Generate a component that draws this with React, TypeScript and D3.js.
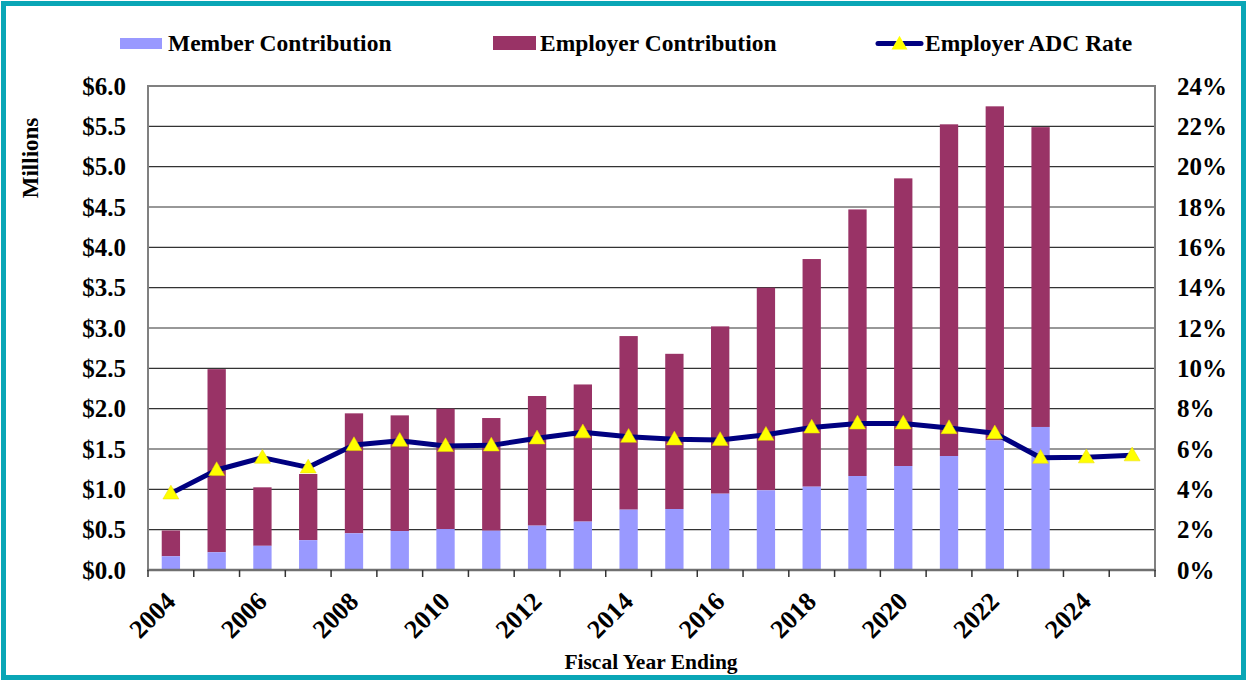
import React, { useEffect, useRef } from 'react';
import * as d3 from 'd3';

// fiscal years on the category axis
const years = ['2004','2005','2006','2007','2008','2009','2010','2011','2012','2013','2014',
  '2015','2016','2017','2018','2019','2020','2021','2022','2023','2024','2025'];

// contributions in $ millions (bars only go through 2023)
const memberContribution = [0.17, 0.22, 0.30, 0.37, 0.455, 0.483, 0.508, 0.487, 0.55, 0.60,
  0.748, 0.756, 0.946, 0.988, 1.033, 1.165, 1.289, 1.413, 1.607, 1.773];
const totalContribution = [0.49, 2.49, 1.025, 1.19, 1.942, 1.917, 2.0, 1.884, 2.157, 2.30,
  2.90, 2.68, 3.02, 3.50, 3.855, 4.47, 4.855, 5.525, 5.748, 5.49];

// employer ADC rate in percent of payroll
const adcRate = [3.8, 4.96, 5.57, 5.09, 6.2, 6.41, 6.15, 6.18, 6.53, 6.83, 6.61,
  6.48, 6.45, 6.71, 7.07, 7.27, 7.27, 7.04, 6.78, 5.57, 5.59, 5.69];

const leftTicks = [0, 0.5, 1, 1.5, 2, 2.5, 3, 3.5, 4, 4.5, 5, 5.5, 6];
const rightTicks = [0, 2, 4, 6, 8, 10, 12, 14, 16, 18, 20, 22, 24];
const labelYears = ['2004','2006','2008','2010','2012','2014','2016','2018','2020','2022','2024'];

const FONT = '"Liberation Serif", "Times New Roman", serif';
const MEMBER = '#9999FF';
const EMPLOYER = '#993366';
const LINE = '#000080';

export default function App() {
  const ref = useRef<SVGSVGElement>(null);

  useEffect(() => {
    const svg = d3.select(ref.current);
    svg.selectAll('*').remove();

    const left = 148, right = 1155, top = 86, bottom = 570;

    const x = d3.scaleBand<string>().domain(years).range([left, right]).padding(0);
    const y = d3.scaleLinear().domain([0, 6]).range([bottom, top]);
    const yR = d3.scaleLinear().domain([0, 24]).range([bottom, top]);
    const bw = x.bandwidth();

    // outer teal frame
    svg.append('rect')
      .attr('x', 3.5).attr('y', 3.5).attr('width', 1240).attr('height', 674)
      .attr('fill', '#fff').attr('stroke', '#0AA6B6').attr('stroke-width', 5);

    // gridlines
    svg.append('g').selectAll('line')
      .data(leftTicks.filter(t => t > 0 && t < 6))
      .join('line')
      .attr('x1', left).attr('x2', right)
      .attr('y1', d => y(d)).attr('y2', d => y(d))
      .attr('stroke', '#333').attr('stroke-width', 1.2);

    // stacked bars
    const bars = svg.append('g');
    memberContribution.forEach((m, i) => {
      const bx = (x(years[i]) as number) + bw * 0.3;
      bars.append('rect')
        .attr('x', bx).attr('width', bw * 0.4)
        .attr('y', y(totalContribution[i])).attr('height', y(m) - y(totalContribution[i]))
        .attr('fill', EMPLOYER);
      bars.append('rect')
        .attr('x', bx).attr('width', bw * 0.4)
        .attr('y', y(m)).attr('height', y(0) - y(m))
        .attr('fill', MEMBER);
    });

    // plot frame
    svg.append('path')
      .attr('d', `M${left},${bottom}V${top}H${right}V${bottom}`)
      .attr('fill', 'none').attr('stroke', '#808080').attr('stroke-width', 2);
    svg.append('line')
      .attr('x1', left - 1).attr('x2', right + 1).attr('y1', bottom).attr('y2', bottom)
      .attr('stroke', '#707070').attr('stroke-width', 2.5);

    // category tick marks at band boundaries
    const bounds = years.map(yr => x(yr) as number).concat([right]);
    svg.append('g').selectAll('line')
      .data(bounds)
      .join('line')
      .attr('x1', d => d).attr('x2', d => d)
      .attr('y1', bottom).attr('y2', bottom + 7)
      .attr('stroke', '#333').attr('stroke-width', 1.5);

    // ADC rate line
    const line = d3.line<number>()
      .x((_, i) => (x(years[i]) as number) + bw / 2)
      .y(d => yR(d));
    svg.append('path')
      .datum(adcRate)
      .attr('d', line)
      .attr('fill', 'none').attr('stroke', LINE).attr('stroke-width', 5)
      .attr('stroke-linejoin', 'round');

    const tri = d3.symbol().type(d3.symbolTriangle).size(110);
    svg.append('g').selectAll('path')
      .data(adcRate)
      .join('path')
      .attr('d', tri)
      .attr('transform', (d, i) => `translate(${(x(years[i]) as number) + bw / 2},${yR(d) + 1})`)
      .attr('fill', '#FFFF00').attr('stroke', '#E8D800').attr('stroke-width', 0.5);

    // left axis labels
    svg.append('g').selectAll('text')
      .data(leftTicks)
      .join('text')
      .attr('x', 126).attr('y', d => y(d) + 8.5)
      .attr('text-anchor', 'end')
      .attr('font-family', FONT).attr('font-weight', 'bold').attr('font-size', 25)
      .text(d => '$' + d.toFixed(1));

    // right axis labels
    svg.append('g').selectAll('text')
      .data(rightTicks)
      .join('text')
      .attr('x', 1177).attr('y', d => yR(d) + 8.5)
      .attr('font-family', FONT).attr('font-weight', 'bold').attr('font-size', 25)
      .text(d => d + '%');

    // x labels, rotated
    svg.append('g').selectAll('text')
      .data(labelYears)
      .join('text')
      .attr('transform', d => `translate(${(x(d) as number) + bw / 2 + 6},603) rotate(-45)`)
      .attr('text-anchor', 'end')
      .attr('font-family', FONT).attr('font-weight', 'bold').attr('font-size', 26)
      .text(d => d);

    // axis titles
    svg.append('text')
      .attr('transform', 'translate(38,158) rotate(-90)')
      .attr('text-anchor', 'middle')
      .attr('font-family', FONT).attr('font-weight', 'bold').attr('font-size', 23)
      .text('Millions');
    svg.append('text')
      .attr('x', 651).attr('y', 669)
      .attr('text-anchor', 'middle')
      .attr('font-family', FONT).attr('font-weight', 'bold').attr('font-size', 21.5)
      .text('Fiscal Year Ending');

    // legend
    const lg = svg.append('g')
      .attr('font-family', FONT).attr('font-weight', 'bold').attr('font-size', 23.5);
    lg.append('rect').attr('x', 120).attr('y', 38).attr('width', 42).attr('height', 11).attr('fill', MEMBER);
    lg.append('text').attr('x', 168).attr('y', 51).text('Member Contribution');
    lg.append('rect').attr('x', 493).attr('y', 36).attr('width', 43).attr('height', 14).attr('fill', EMPLOYER);
    lg.append('text').attr('x', 540).attr('y', 51).text('Employer Contribution');
    lg.append('line').attr('x1', 878).attr('x2', 921).attr('y1', 43.5).attr('y2', 43.5)
      .attr('stroke', LINE).attr('stroke-width', 5).attr('stroke-linecap', 'round');
    lg.append('path').attr('d', tri).attr('transform', 'translate(899.5,45)')
      .attr('fill', '#FFFF00');
    lg.append('text').attr('x', 925).attr('y', 51).text('Employer ADC Rate');
  }, []);

  return (
    <div>
      <svg ref={ref} width={1247} height={680}
        style={{ position: 'absolute', left: 0, top: 0, display: 'block' }} />
    </div>
  );
}
